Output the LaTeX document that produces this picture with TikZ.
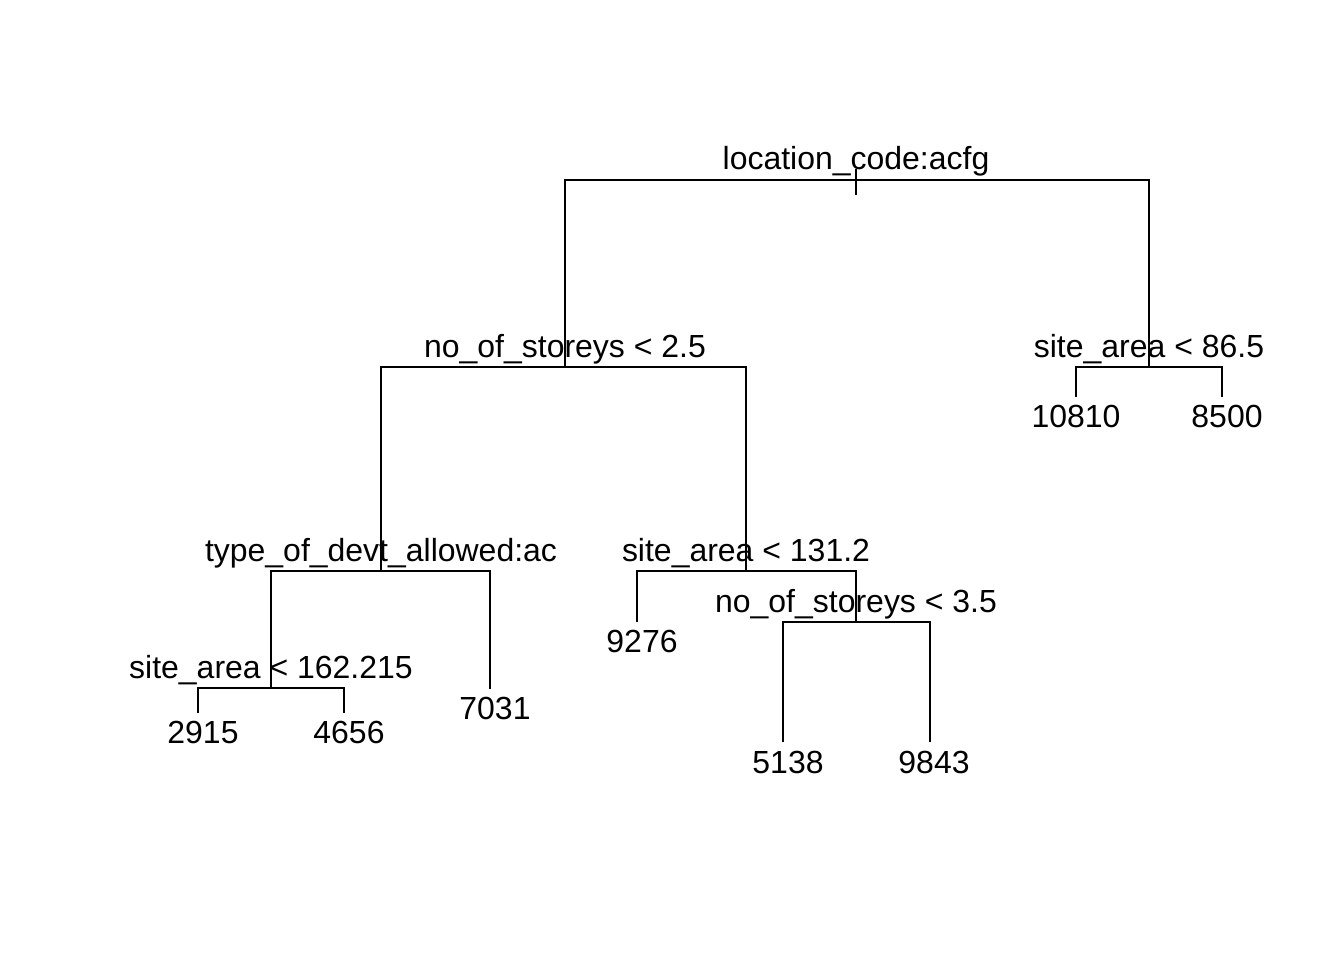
\documentclass[tikz,border=0pt]{standalone}
\usepackage{fontspec}
\setmainfont{Liberation Sans}
\usetikzlibrary{positioning}
\tikzset{branch/.style={draw,line width=1.1pt}}
\tikzset{split/.style={anchor=base,inner sep=0pt,font=\fontsize{18.2}{20}\selectfont}}
\tikzset{leaf/.style={anchor=base,inner sep=0pt,font=\fontsize{18.2}{20}\selectfont}}

\begin{document}
\begin{tikzpicture}[x=0.02cm,y=-0.02cm]
    \useasboundingbox (0,0) rectangle (1344,960);

    % splits
    \coordinate (root) at (856,180);
    \coordinate (rtop) at (856,169);
    \coordinate (rbot) at (856,195);
    \coordinate (storeysA) at (565,367);
    \coordinate (areaA) at (1149,367);
    \coordinate (devt) at (381,571);
    \coordinate (areaB) at (746,571);
    \coordinate (areaC) at (271,688);
    \coordinate (storeysB) at (856,622);

    % leaf ends
    \coordinate (l1) at (198,713);
    \coordinate (l2) at (344,713);
    \coordinate (l3) at (490,689);
    \coordinate (l4) at (637,622);
    \coordinate (l5) at (783,742);
    \coordinate (l6) at (930,742);
    \coordinate (l7) at (1076,397);
    \coordinate (l8) at (1222,397);

     \node[split] (troot) at (856,169) {location\_code:acfg};
     \node[split] (tstoreysA) at (565,357) {no\_of\_storeys < 2.5};
     \node[split] (tareaA) at (1149,357) {site\_area < 86.5};
     \node[split] (tdevt) at (381,561) {type\_of\_devt\_allowed:ac};
     \node[split] (tareaB) at (746,561) {site\_area < 131.2};
     \node[split] (tareaC) at (271,678) {site\_area < 162.215};
     \node[split] (tstoreysB) at (856,612) {no\_of\_storeys < 3.5};

     \node[leaf] (v1) at (203,743) {2915};
     \node[leaf] (v2) at (349,743) {4656};
     \node[leaf] (v3) at (495,719) {7031};
     \node[leaf] (v4) at (642,652) {9276};
     \node[leaf] (v5) at (788,773) {5138};
     \node[leaf] (v6) at (934,773) {9843};
     \node[leaf] (v7) at (1076,427) {10810};
     \node[leaf] (v8) at (1227,427) {8500};

        \path[branch] (rtop) -- (rbot);
        \path[branch] (storeysA) |- (root) -| (areaA);
        \path[branch] (devt) |- (storeysA) -| (areaB);
        \path[branch] (l7) |- (areaA) -| (l8);
        \path[branch] (areaC) |- (devt) -| (l3);
        \path[branch] (l4) |- (areaB) -| (storeysB);
        \path[branch] (l1) |- (areaC) -| (l2);
        \path[branch] (l5) |- (storeysB) -| (l6);
  \end{tikzpicture}
\end{document}
